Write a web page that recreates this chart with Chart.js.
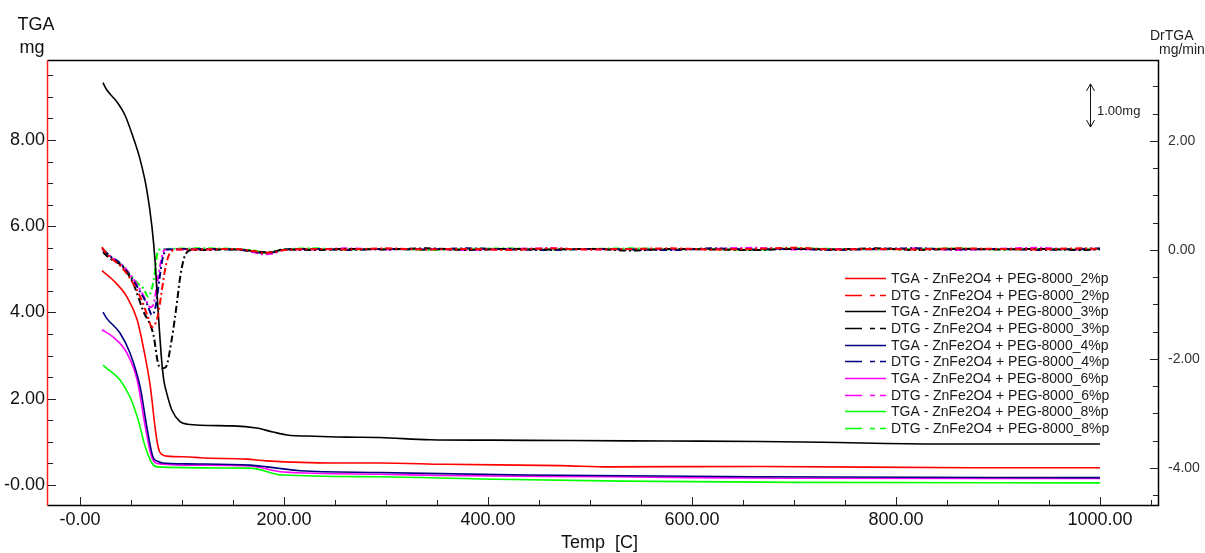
<!DOCTYPE html>
<html>
<head>
<meta charset="utf-8">
<title>TGA - ZnFe2O4 + PEG-8000</title>
<script src="https://cdn.jsdelivr.net/npm/chart.js"></script>
<style>
  html, body { margin: 0; padding: 0; background: #fff; }
  canvas { display: block; }
</style>
</head>
<body>
<canvas id="tga" width="1205" height="553"></canvas>
<script>
// TGA curves: temperature [C] -> mass [mg] (left axis)
var tga2Temp = [21.5, 32, 46, 56, 62, 69, 73.5, 76, 78, 81, 85, 108, 118, 163, 183, 248, 294, 358, 471, 520, 667, 876, 1000];
var tga2Mass = [4.97, 4.76, 4.36, 3.83, 3.20, 2.27, 1.35, 0.95, 0.77, 0.70, 0.67, 0.65, 0.63, 0.60, 0.56, 0.51, 0.51, 0.48, 0.45, 0.42, 0.43, 0.40, 0.40];

var tga3Temp = [22.5, 26, 36, 44, 52, 59, 65.5, 70.5, 73.5, 76.5, 80, 82, 85, 90, 98, 105, 150, 173, 189, 203, 230, 262, 294, 343, 404, 480, 576, 667, 727, 843, 1000];
var tga3Mass = [9.33, 9.17, 8.89, 8.58, 8.07, 7.54, 6.84, 5.99, 5.22, 4.06, 2.90, 2.45, 2.13, 1.74, 1.47, 1.41, 1.37, 1.32, 1.23, 1.16, 1.13, 1.11, 1.10, 1.05, 1.04, 1.03, 1.02, 1.01, 0.99, 0.95, 0.95];

var tga4Temp = [22.5, 26, 39, 49, 59, 65.5, 71.5, 76, 81, 105, 167, 183, 216, 294, 439, 667, 1000];
var tga4Mass = [4.01, 3.87, 3.53, 3.06, 2.27, 1.35, 0.65, 0.55, 0.51, 0.49, 0.46, 0.42, 0.33, 0.29, 0.23, 0.19, 0.17];

var tga6Temp = [21.5, 32, 46, 56, 64, 70.5, 78, 118, 167, 199, 294, 353, 523, 600, 700, 1000];
var tga6Mass = [3.60, 3.44, 3.06, 2.44, 1.35, 0.63, 0.49, 0.46, 0.44, 0.30, 0.25, 0.22, 0.19, 0.17, 0.155, 0.15];

var tga8Temp = [22.5, 26, 39, 49, 57, 64, 70.5, 75.5, 167, 199, 294, 392, 532, 700, 1000];
var tga8Mass = [2.78, 2.71, 2.44, 2.04, 1.51, 0.88, 0.51, 0.42, 0.39, 0.23, 0.19, 0.14, 0.09, 0.06, 0.05];

// DTG curves: the peak part, then the flat tail (right axis, mg/min)
var dtg2Temp = [21.5, 24, 30, 40, 50, 60, 66, 70.5, 73, 76.5, 80, 83, 86, 90, 95];
var dtg2Rate = [0.05, -0.02, -0.14, -0.30, -0.55, -0.90, -1.20, -1.41, -1.38, -1.19, -0.77, -0.40, -0.15, -0.02, 0.01];

var dtg3Temp = [22.5, 29, 42, 52, 62, 72, 76.5, 80, 84, 90, 95, 98, 101, 104, 110];
var dtg3Rate = [-0.04, -0.15, -0.31, -0.61, -1.12, -1.56, -2.08, -2.17, -2.15, -1.63, -0.97, -0.52, -0.22, -0.06, 0.00];

var dtg4Temp = [22.5, 30, 40, 50, 60, 66, 70.5, 74, 78, 81, 85];
var dtg4Rate = [0.00, -0.12, -0.26, -0.50, -0.80, -1.00, -1.19, -1.05, -0.51, -0.15, 0.01];

var dtg6Temp = [21.5, 30, 40, 50, 58, 64, 69, 72, 76.5, 80, 83];
var dtg6Rate = [0.03, -0.12, -0.25, -0.47, -0.70, -0.90, -1.05, -1.00, -0.51, -0.15, 0.01];

var dtg8Temp = [22.5, 30, 40, 49, 57, 62, 67, 70.5, 73.5, 75.5, 78];
var dtg8Rate = [0.02, -0.12, -0.25, -0.45, -0.62, -0.70, -0.86, -0.70, -0.40, -0.09, 0.01];

var dtgTailTemp = [120, 150, 170, 180, 190, 200, 230, 260, 300, 340, 380, 420, 460, 500, 540, 580, 620, 660, 700, 740, 780, 820, 860, 900, 940, 980, 1000];
var dtg2Tail = [0.01, 0.02, -0.02, -0.05, -0.04, 0.00, 0.02, 0.01, 0.03, 0.01, 0.02, 0.00, 0.03, 0.01, 0.02, 0.03, 0.01, 0.02, 0.04, 0.01, 0.02, 0.01, 0.03, 0.02, 0.01, 0.03, 0.02];
var dtg3Tail = [0.00, 0.01, -0.02, -0.04, -0.03, 0.01, 0.00, 0.02, 0.01, 0.03, 0.00, 0.02, 0.01, 0.02, -0.01, 0.02, 0.01, 0.00, 0.02, 0.01, 0.03, 0.00, 0.02, 0.01, 0.02, 0.00, 0.01];
var dtg4Tail = [0.02, 0.01, -0.03, -0.06, -0.04, 0.01, 0.02, 0.00, 0.02, 0.01, 0.03, 0.01, 0.00, 0.02, 0.01, 0.00, 0.03, 0.01, 0.02, 0.00, 0.02, 0.03, 0.01, 0.02, 0.00, 0.02, 0.03];
var dtg6Tail = [0.01, 0.02, -0.04, -0.08, -0.06, 0.00, 0.01, 0.03, 0.01, 0.02, 0.00, 0.02, 0.03, 0.01, 0.02, 0.01, 0.02, 0.04, 0.01, 0.02, 0.01, 0.03, 0.00, 0.02, 0.04, 0.01, 0.02];
var dtg8Tail = [0.03, 0.02, -0.01, -0.05, -0.03, 0.01, 0.03, 0.01, 0.02, 0.00, 0.02, 0.03, 0.01, 0.02, 0.03, 0.01, 0.02, 0.00, 0.03, 0.02, 0.01, 0.02, 0.03, 0.01, 0.02, 0.01, 0.02];

// tick labels
var xMajor = [0, 200, 400, 600, 800, 1000];
var yMajor = [0, 2, 4, 6, 8];
var y2Major = [-4, -2, 0, 2];

var samples = ['2%p', '3%p', '4%p', '6%p', '8%p'];
var colors = ['#ff0000', '#000000', '#000080', '#ff00ff', '#00ff00'];

var FONT = 'Liberation Sans, Arial, sans-serif';

function toPoints(xs, ys) {
  var pts = [];
  for (var i = 0; i < xs.length; i++) pts.push({ x: xs[i], y: ys[i] });
  return pts;
}

function range(from, to, step) {
  var out = [];
  for (var v = from; v <= to + 1e-9; v += step) out.push({ value: Math.round(v * 100) / 100 });
  return out;
}

function fmt(v) {
  if (v === 0) return '-0.00';
  return v.toFixed(2);
}

function buildDatasets() {
  var tgaT = [tga2Temp, tga3Temp, tga4Temp, tga6Temp, tga8Temp];
  var tgaM = [tga2Mass, tga3Mass, tga4Mass, tga6Mass, tga8Mass];
  var dtgT = [dtg2Temp, dtg3Temp, dtg4Temp, dtg6Temp, dtg8Temp];
  var dtgR = [dtg2Rate, dtg3Rate, dtg4Rate, dtg6Rate, dtg8Rate];
  var tails = [dtg2Tail, dtg3Tail, dtg4Tail, dtg6Tail, dtg8Tail];
  var sets = [];
  for (var i = 0; i < samples.length; i++) {
    sets.push({
      label: 'TGA - ZnFe2O4 + PEG-8000_' + samples[i],
      data: toPoints(tgaT[i], tgaM[i]),
      yAxisID: 'y',
      borderColor: colors[i],
      borderWidth: 1.6,
      cubicInterpolationMode: 'monotone'
    });
    sets.push({
      label: 'DTG - ZnFe2O4 + PEG-8000_' + samples[i],
      data: toPoints(dtgT[i].concat(dtgTailTemp), dtgR[i].concat(tails[i])),
      yAxisID: 'y2',
      borderColor: colors[i],
      borderWidth: 2,
      borderDash: [7, 3, 2, 3],
      cubicInterpolationMode: 'monotone'
    });
  }
  return sets;
}

function drawTicks(c, scale, area, where, major) {
  c.save();
  c.strokeStyle = '#222';
  c.lineWidth = 1;
  c.beginPath();
  scale.ticks.forEach(function (t) {
    var p = Math.round(scale.getPixelForValue(t.value)) + 0.5;
    var len = major.indexOf(t.value) >= 0 ? 8 : 5;
    if (where === 'left') { c.moveTo(area.left, p); c.lineTo(area.left + len, p); }
    if (where === 'right') { c.moveTo(area.right, p); c.lineTo(area.right - len, p); }
    if (where === 'bottom') { c.moveTo(p, area.bottom); c.lineTo(p, area.bottom - len); }
  });
  c.stroke();
  c.restore();
}

var framePlugin = {
  id: 'frame',
  beforeDraw: function (chart) {
    var c = chart.ctx;
    c.save();
    c.fillStyle = '#fff';
    c.fillRect(0, 0, chart.width, chart.height);
    c.restore();
  },
  afterDraw: function (chart) {
    var c = chart.ctx, a = chart.chartArea;
    var L = Math.round(a.left) - 0.5, R = Math.round(a.right) + 0.5;
    var T = Math.round(a.top) + 0.5, B = Math.round(a.bottom) + 0.5;

    c.save();
    c.lineWidth = 1.5;
    c.strokeStyle = '#000';
    c.beginPath();
    c.moveTo(L, T); c.lineTo(R, T); c.lineTo(R, B); c.lineTo(L, B);
    c.stroke();
    c.strokeStyle = '#ff2020';
    c.beginPath();
    c.moveTo(L, T); c.lineTo(L, B);
    c.stroke();
    c.restore();

    drawTicks(c, chart.scales.x, a, 'bottom', xMajor);
    drawTicks(c, chart.scales.y, a, 'left', yMajor);
    drawTicks(c, chart.scales.y2, a, 'right', y2Major);

    // axis titles
    c.save();
    c.fillStyle = '#111';
    c.textBaseline = 'alphabetic';
    c.textAlign = 'center';
    c.font = '18px ' + FONT;
    c.fillText('TGA', 36, 30);
    c.fillText('mg', 32, 53);
    c.textAlign = 'left';
    c.fillText('Temp  [C]', 561, 548);
    c.font = '14px ' + FONT;
    c.fillStyle = '#222';
    c.fillText('DrTGA', 1150, 40);
    c.fillText('mg/min', 1159, 54);
    c.restore();

    // scale marker 1.00 mg
    var ys = chart.scales.y;
    var ax = 1090.5;
    var yTop = ys.getPixelForValue(9.3), yBot = ys.getPixelForValue(8.3);
    c.save();
    c.strokeStyle = '#111';
    c.lineWidth = 1;
    c.beginPath();
    c.moveTo(ax, yTop); c.lineTo(ax, yBot);
    c.moveTo(ax - 4, yTop + 7); c.lineTo(ax, yTop); c.lineTo(ax + 4, yTop + 7);
    c.moveTo(ax - 4, yBot - 7); c.lineTo(ax, yBot); c.lineTo(ax + 4, yBot - 7);
    c.stroke();
    c.fillStyle = '#222';
    c.font = '13px ' + FONT;
    c.textBaseline = 'middle';
    c.fillText('1.00mg', 1097, 111);
    c.restore();

    // legend
    c.save();
    c.font = '14px ' + FONT;
    c.textBaseline = 'middle';
    chart.data.datasets.forEach(function (ds, i) {
      var y = Math.round(278 + i * 16.67) + 0.5;
      c.strokeStyle = ds.borderColor;
      c.lineWidth = 1.6;
      c.setLineDash(ds.borderDash ? [17, 8, 5, 5] : []);
      c.beginPath();
      c.moveTo(845, y); c.lineTo(886, y);
      c.stroke();
      c.fillStyle = '#1a1a1a';
      c.fillText(ds.label, 891, y + 1);
    });
    c.restore();
  }
};

function init() {
  var ctx = document.getElementById('tga');
  new Chart(ctx, {
    type: 'line',
    data: { datasets: buildDatasets() },
    options: {
      responsive: false,
      animation: false,
      devicePixelRatio: 1,
      layout: { padding: { top: 60, left: 0, right: 0, bottom: 0 } },
      elements: { point: { radius: 0 } },
      plugins: { legend: { display: false }, tooltip: { enabled: false } },
      scales: {
        x: {
          type: 'linear',
          min: -31.4,
          max: 1056.9,
          afterBuildTicks: function (s) { s.ticks = range(0, 1050, 50); },
          afterFit: function (s) { s.height = 48; },
          grid: { display: false, drawTicks: false },
          border: { display: false },
          ticks: {
            autoSkip: false, maxRotation: 0, padding: 4,
            color: '#111', font: { family: FONT, size: 18 },
            callback: function (v) { return xMajor.indexOf(v) >= 0 ? fmt(v) : ''; }
          }
        },
        y: {
          position: 'left',
          min: -0.464,
          max: 9.855,
          afterBuildTicks: function (s) { s.ticks = range(0, 9.5, 0.5); },
          afterFit: function (s) { s.width = 48; },
          grid: { display: false, drawTicks: false },
          border: { display: false },
          ticks: {
            autoSkip: false, padding: 3,
            color: '#111', font: { family: FONT, size: 18 },
            callback: function (v) { return yMajor.indexOf(v) >= 0 ? fmt(v) : ''; }
          }
        },
        y2: {
          position: 'right',
          min: -4.679,
          max: 3.486,
          afterBuildTicks: function (s) { s.ticks = range(-4.5, 3, 0.5); },
          afterFit: function (s) { s.width = 47; },
          grid: { display: false, drawTicks: false },
          border: { display: false },
          ticks: {
            autoSkip: false, padding: 10,
            color: '#333', font: { family: FONT, size: 14 },
            callback: function (v) { return y2Major.indexOf(v) >= 0 ? v.toFixed(2) : ''; }
          }
        }
      }
    },
    plugins: [framePlugin]
  });
}

init();
</script>
</body>
</html>
